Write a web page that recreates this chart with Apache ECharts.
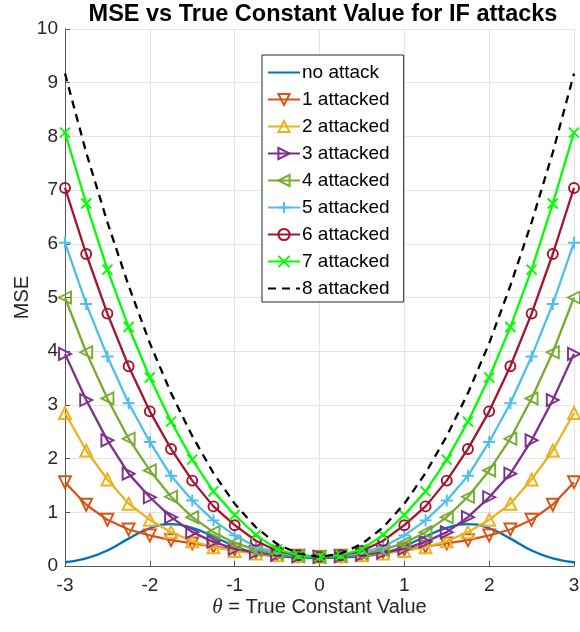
<!DOCTYPE html>
<html>
<head>
<meta charset="utf-8">
<script src="https://cdn.jsdelivr.net/npm/echarts@6/dist/echarts.min.js"></script>
<style>
html,body{margin:0;padding:0;background:#fff;}
#chart{width:580px;height:632px;}
</style>
</head>
<body>
<div id="chart"></div>
<script>
// ---- data ----
var theta = [-3,-2.75,-2.5,-2.25,-2,-1.75,-1.5,-1.25,-1,-0.75,-0.5,-0.25,0,0.25,0.5,0.75,1,1.25,1.5,1.75,2,2.25,2.5,2.75,3];
var noAttack  = [0.07,0.14,0.29,0.51,0.70,0.78,0.71,0.55,0.37,0.24,0.18,0.16,0.15,0.16,0.18,0.24,0.37,0.55,0.71,0.78,0.70,0.51,0.29,0.14,0.07];
var attacked1 = [1.56,1.14,0.86,0.68,0.57,0.48,0.42,0.36,0.31,0.26,0.22,0.19,0.17,0.19,0.22,0.26,0.31,0.36,0.42,0.48,0.57,0.68,0.86,1.14,1.56];
var attacked2 = [2.85,2.15,1.61,1.16,0.86,0.63,0.46,0.35,0.28,0.23,0.20,0.18,0.17,0.18,0.20,0.23,0.28,0.35,0.46,0.63,0.86,1.16,1.61,2.15,2.85];
var attacked3 = [3.95,3.09,2.34,1.72,1.28,0.91,0.63,0.45,0.32,0.25,0.21,0.18,0.17,0.18,0.21,0.25,0.32,0.45,0.63,0.91,1.28,1.72,2.34,3.09,3.95];
var attacked4 = [5.00,3.98,3.12,2.37,1.78,1.29,0.91,0.63,0.43,0.30,0.23,0.19,0.17,0.19,0.23,0.30,0.43,0.63,0.91,1.29,1.78,2.37,3.12,3.98,5.00];
var attacked5 = [6.02,4.88,3.90,3.03,2.31,1.68,1.22,0.85,0.57,0.36,0.25,0.19,0.17,0.19,0.25,0.36,0.57,0.85,1.22,1.68,2.31,3.03,3.90,4.88,6.02];
var attacked6 = [7.04,5.81,4.70,3.72,2.88,2.18,1.59,1.11,0.76,0.47,0.28,0.20,0.17,0.20,0.28,0.47,0.76,1.11,1.59,2.18,2.88,3.72,4.70,5.81,7.04];
var attacked7 = [8.07,6.75,5.52,4.45,3.51,2.69,1.98,1.39,0.95,0.58,0.31,0.20,0.17,0.20,0.31,0.58,0.95,1.39,1.98,2.69,3.51,4.45,5.52,6.75,8.07];
var attacked8 = [9.17,7.70,6.40,5.22,4.15,3.22,2.42,1.73,1.16,0.72,0.41,0.23,0.17,0.23,0.41,0.72,1.16,1.73,2.42,3.22,4.15,5.22,6.40,7.70,9.17];
var seriesNames = ['no attack','1 attacked','2 attacked','3 attacked','4 attacked','5 attacked','6 attacked','7 attacked','8 attacked'];
var xTicks = [-3,-2,-1,0,1,2,3];
var yTicks = [0,1,2,3,4,5,6,7,8,9,10];

var colors = ['#0072BD','#D95319','#EDB120','#7E2F8E','#77AC30','#4DBEEE','#A2142F','#00FF00','#000000'];
var symbols = ['none',
  'path://M0,0 L10,0 L5,9 Z',
  'path://M5,0 L10,9 L0,9 Z',
  'path://M0,0 L9,5 L0,10 Z',
  'path://M9,0 L0,5 L9,10 Z',
  'path://M5,0 L5,10 M0,5 L10,5',
  'circle',
  'path://M0,0 L10,10 M10,0 L0,10',
  'none'];
var symbolSizes = [0,12,12,12,12,12,10,10,0];
var allValues = [noAttack,attacked1,attacked2,attacked3,attacked4,attacked5,attacked6,attacked7,attacked8];

function pairs(vals){ return theta.map(function(t,i){ return [t, vals[i]]; }); }

var series = allValues.map(function(vals, k){
  return {
    name: seriesNames[k],
    type: 'line',
    data: pairs(vals),
    symbol: symbols[k],
    symbolSize: symbolSizes[k],
    showSymbol: symbols[k] !== 'none',
    smooth: k === 0,
    lineStyle: {color: colors[k], width: 2.3, type: k === 8 ? [8,6] : 'solid'},
    itemStyle: {color: 'rgba(255,255,255,0)', borderColor: colors[k], borderWidth: 1.9},
    emphasis: {disabled: true},
    z: 2 + k
  };
});

var legendData = seriesNames.map(function(n, k){
  if (symbols[k] === 'none') {
    return {name: n, itemStyle: {color: 'rgba(0,0,0,0)', borderColor: 'rgba(0,0,0,0)', borderWidth: 0}};
  }
  return {name: n};
});

var chart = echarts.init(document.getElementById('chart'), null, {renderer: 'canvas'});
chart.setOption({
  animation: false,
  backgroundColor: '#ffffff',
  title: {
    text: 'MSE vs True Constant Value for IF attacks',
    left: 318, textAlign: 'center', top: -2,
    textStyle: {fontFamily: 'Liberation Sans', fontWeight: 'bold', fontSize: 23.5, color: '#000'}
  },
  grid: {left: 65, right: 6, top: 29, bottom: 66, outerBoundsMode: 'none', containLabel: false},
  legend: {
    orient: 'vertical',
    left: 262, top: 55,
    data: legendData,
    itemWidth: 32, itemHeight: 14, itemGap: 8,
    padding: [8, 14, 4, 5],
    backgroundColor: '#fff',
    borderColor: '#262626', borderWidth: 1,
    textStyle: {fontFamily: 'Liberation Sans', fontSize: 19, color: '#000', padding: [0,0,0,-3]},
    selectedMode: false
  },
  xAxis: {
    type: 'value', min: -3, max: 3, interval: 1,
    name: '{th|θ} = True Constant Value',
    nameLocation: 'middle', nameGap: 31, nameMoveOverlap: false,
    nameTextStyle: {fontFamily: 'Liberation Sans', fontSize: 20, color: '#262626',
      rich: {th: {fontFamily: 'Liberation Serif', fontStyle: 'italic', fontSize: 21, color: '#262626'}}},
    axisLine: {show: true, onZero: false, lineStyle: {color: '#555', width: 1}},
    axisTick: {show: true, inside: true, length: 5, lineStyle: {color: '#555'}},
    axisLabel: {fontFamily: 'Liberation Sans', fontSize: 19, color: '#262626', margin: 10,
      formatter: function(v){ return xTicks.indexOf(v) >= 0 ? String(v) : ''; }},
    splitLine: {show: true, lineStyle: {color: '#e3e3e3', width: 1}}
  },
  yAxis: {
    type: 'value', min: 0, max: 10, interval: 1,
    name: 'MSE', nameLocation: 'middle', nameGap: 33, nameMoveOverlap: false,
    nameTextStyle: {fontFamily: 'Liberation Sans', fontSize: 20, color: '#262626'},
    axisLine: {show: true, onZero: false, lineStyle: {color: '#555', width: 1}},
    axisTick: {show: true, inside: true, length: 5, lineStyle: {color: '#555'}},
    axisLabel: {fontFamily: 'Liberation Sans', fontSize: 19, color: '#262626', margin: 7,
      formatter: function(v){ return yTicks.indexOf(v) >= 0 ? String(v) : ''; }},
    splitLine: {show: true, lineStyle: {color: '#e3e3e3', width: 1}}
  },
  series: series
});
</script>
</body>
</html>
